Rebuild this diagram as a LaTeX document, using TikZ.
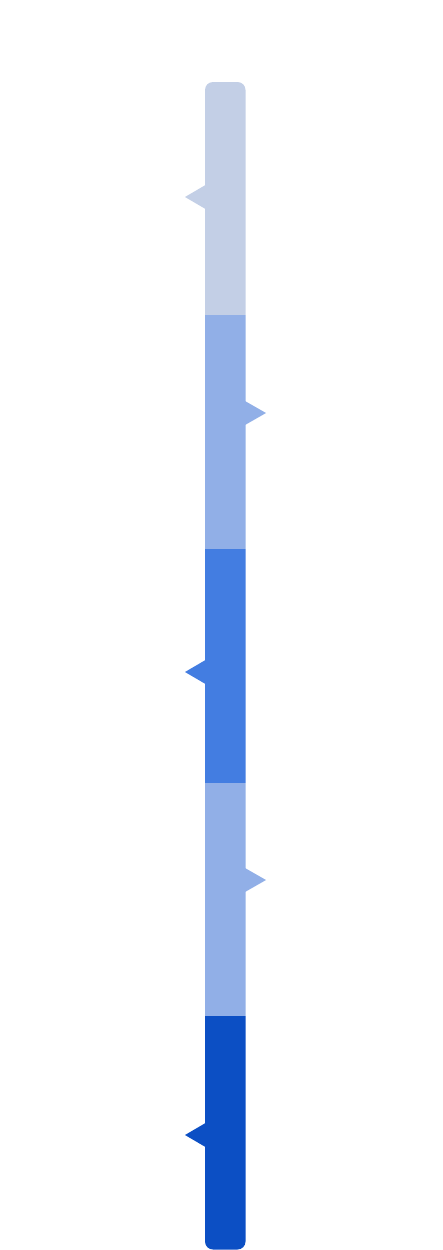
\documentclass[tikz,border=0pt]{standalone}
\definecolor{segA}{HTML}{C3CFE6}
\definecolor{segB}{HTML}{91AFE7}
\definecolor{segC}{HTML}{437DE1}
\definecolor{segD}{HTML}{0C4FC4}
\begin{document}
\begin{tikzpicture}[x=1pt,y=-1pt,
  mark tri/.style={fill=#1,draw=none}]
\useasboundingbox (0,0) rectangle (443,1250);
\begin{scope}
\clip[rounded corners=8pt] (205,82) rectangle (245.5,1249.5);
\fill[segA] (205,82) rectangle (245.5,315);
\fill[segB] (205,315) rectangle (245.5,549);
\fill[segC] (205,549) rectangle (245.5,783);
\fill[segB] (205,783) rectangle (245.5,1016);
\fill[segD] (205,1016) rectangle (245.5,1249.5);
\end{scope}
\fill[mark tri=segA] (205.5,185) -- (185,197) -- (205.5,209) -- cycle;
\fill[mark tri=segB] (245,401) -- (266,413) -- (245,425) -- cycle;
\fill[mark tri=segC] (205.5,660) -- (185,672) -- (205.5,684) -- cycle;
\fill[mark tri=segB] (245,868) -- (266,880) -- (245,892) -- cycle;
\fill[mark tri=segD] (205.5,1123) -- (185,1135) -- (205.5,1147) -- cycle;
\end{tikzpicture}
\end{document}
